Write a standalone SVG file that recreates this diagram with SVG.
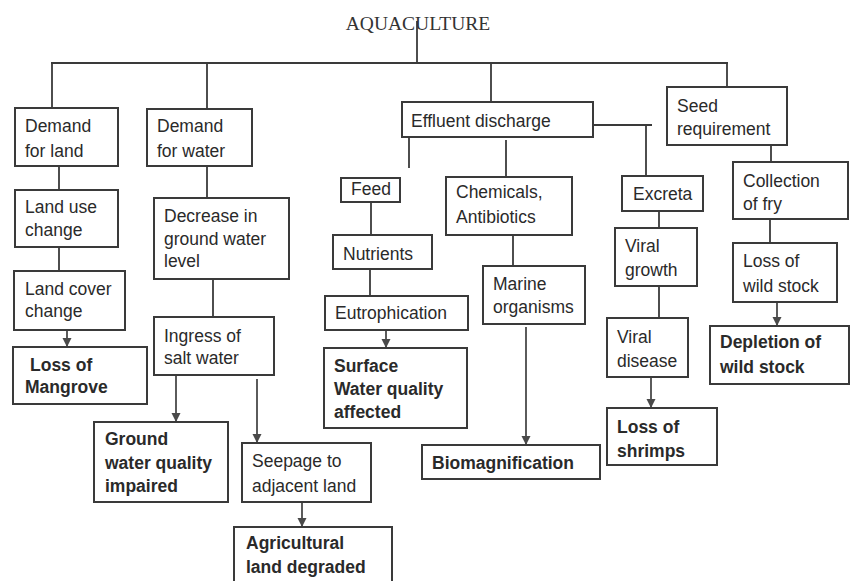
<svg xmlns="http://www.w3.org/2000/svg" width="850" height="581" viewBox="0 0 850 581">
<style>
.bg{fill:#ffffff}
.box{fill:#ffffff;stroke:#3a3a3a;stroke-width:2}
.ln{fill:none;stroke:#3a3a3a;stroke-width:1.8}
.ar{fill:none;stroke:#4a4a4a;stroke-width:1.8;marker-end:url(#ah)}
.t{font-family:"Liberation Sans",Arial,sans-serif;font-size:17.5px;fill:#2a2a2a}
.b{font-weight:bold}
.title{font-family:"Liberation Serif","Times New Roman",serif;font-size:19.5px;fill:#333333;text-anchor:middle}
</style>
<defs>
<marker id="ah" markerUnits="userSpaceOnUse" markerWidth="10" markerHeight="10" refX="9" refY="5" orient="auto">
<path d="M0,0.5 L9,5 L0,9.5 z" fill="#4a4a4a"/>
</marker>
</defs>
<rect class="bg" x="0" y="0" width="850" height="581"/>

<g id="connectors">
<line class="ln" x1="417" y1="21" x2="417" y2="63"/>
<line class="ln" x1="51" y1="63" x2="728" y2="63"/>
<line class="ln" x1="52" y1="63" x2="52" y2="108"/>
<line class="ln" x1="207" y1="63" x2="207" y2="109"/>
<line class="ln" x1="491" y1="63" x2="491" y2="102"/>
<line class="ln" x1="727" y1="63" x2="727" y2="87"/>
<line class="ln" x1="59" y1="166" x2="59" y2="190"/>
<line class="ln" x1="59" y1="247" x2="59" y2="271"/>
<line class="ar" x1="67" y1="330" x2="67" y2="347"/>
<line class="ln" x1="207" y1="166" x2="207" y2="198"/>
<line class="ln" x1="213" y1="279" x2="213" y2="317"/>
<line class="ar" x1="176" y1="375" x2="176" y2="422"/>
<line class="ar" x1="257" y1="379" x2="257" y2="443"/>
<line class="ar" x1="302" y1="502" x2="302" y2="527"/>
<line class="ln" x1="409" y1="137" x2="409" y2="168"/>
<line class="ln" x1="371" y1="202" x2="371" y2="235"/>
<line class="ln" x1="370" y1="269" x2="370" y2="296"/>
<line class="ar" x1="386" y1="330" x2="386" y2="348"/>
<line class="ln" x1="506" y1="140" x2="506" y2="177"/>
<line class="ln" x1="513" y1="235" x2="513" y2="266"/>
<line class="ar" x1="526" y1="327" x2="526" y2="445"/>
<line class="ln" x1="593" y1="125" x2="652" y2="125"/>
<line class="ln" x1="646" y1="125" x2="646" y2="175"/>
<line class="ln" x1="659" y1="211" x2="659" y2="228"/>
<line class="ln" x1="659" y1="286" x2="659" y2="318"/>
<line class="ar" x1="651" y1="377" x2="651" y2="408"/>
<line class="ln" x1="771" y1="145" x2="771" y2="162"/>
<line class="ln" x1="770" y1="219" x2="770" y2="243"/>
<line class="ar" x1="777" y1="302" x2="777" y2="326"/>
</g>

<g id="title"><text class="title" x="418" y="30">AQUACULTURE</text></g>

<g id="demand-land"><rect class="box" x="15" y="108" width="103" height="58"/><text class="t" x="25" y="132">Demand</text><text class="t" x="25" y="157">for land</text></g>
<g id="land-use"><rect class="box" x="15" y="190" width="103" height="57"/><text class="t" x="25" y="213">Land use</text><text class="t" x="25" y="236">change</text></g>
<g id="land-cover"><rect class="box" x="14" y="271" width="111" height="59"/><text class="t" x="25" y="295">Land cover</text><text class="t" x="25" y="317">change</text></g>
<g id="loss-mangrove"><rect class="box" x="13" y="347" width="134" height="57"/><text class="t b" x="30" y="371">Loss of</text><text class="t b" x="25" y="393">Mangrove</text></g>

<g id="demand-water"><rect class="box" x="147" y="109" width="105" height="57"/><text class="t" x="157" y="132">Demand</text><text class="t" x="157" y="157">for water</text></g>
<g id="decrease"><rect class="box" x="154" y="198" width="135" height="81"/><text class="t" x="164" y="222">Decrease in</text><text class="t" x="164" y="245">ground water</text><text class="t" x="164" y="267">level</text></g>
<g id="ingress"><rect class="box" x="154" y="317" width="120" height="58"/><text class="t" x="164" y="342">Ingress of</text><text class="t" x="164" y="364">salt water</text></g>
<g id="ground"><rect class="box" x="94" y="422" width="134" height="80"/><text class="t b" x="105" y="445">Ground</text><text class="t b" x="105" y="469">water quality</text><text class="t b" x="105" y="492">impaired</text></g>
<g id="seepage"><rect class="box" x="242" y="443" width="129" height="59"/><text class="t" x="252" y="467">Seepage to</text><text class="t" x="252" y="492">adjacent land</text></g>
<g id="agri"><rect class="box" x="234" y="527" width="158" height="60"/><text class="t b" x="246" y="549">Agricultural</text><text class="t b" x="246" y="573">land degraded</text></g>

<g id="effluent"><rect class="box" x="402" y="102" width="191" height="35"/><text class="t" x="411" y="127">Effluent discharge</text></g>
<g id="feed"><rect class="box" x="341" y="178" width="59" height="24"/><text class="t" x="351" y="195">Feed</text></g>
<g id="nutrients"><rect class="box" x="333" y="235" width="99" height="34"/><text class="t" x="343" y="260">Nutrients</text></g>
<g id="eutro"><rect class="box" x="325" y="296" width="143" height="34"/><text class="t" x="335" y="319">Eutrophication</text></g>
<g id="surface"><rect class="box" x="324" y="348" width="143" height="80"/><text class="t b" x="334" y="372">Surface</text><text class="t b" x="334" y="395">Water quality</text><text class="t b" x="334" y="418">affected</text></g>
<g id="chemicals"><rect class="box" x="446" y="177" width="126" height="58"/><text class="t" x="456" y="198">Chemicals,</text><text class="t" x="456" y="223">Antibiotics</text></g>
<g id="marine"><rect class="box" x="483" y="266" width="102" height="58"/><text class="t" x="493" y="290">Marine</text><text class="t" x="493" y="313">organisms</text></g>
<g id="biomag"><rect class="box" x="422" y="445" width="178" height="34"/><text class="t b" x="432" y="469">Biomagnification</text></g>

<g id="excreta"><rect class="box" x="622" y="176" width="81" height="35"/><text class="t" x="633" y="200">Excreta</text></g>
<g id="viral-growth"><rect class="box" x="615" y="228" width="82" height="58"/><text class="t" x="625" y="252">Viral</text><text class="t" x="625" y="276">growth</text></g>
<g id="viral-disease"><rect class="box" x="607" y="318" width="81" height="59"/><text class="t" x="617" y="343">Viral</text><text class="t" x="617" y="367">disease</text></g>
<g id="loss-shrimps"><rect class="box" x="607" y="408" width="110" height="57"/><text class="t b" x="617" y="433">Loss of</text><text class="t b" x="617" y="457">shrimps</text></g>

<g id="seed"><rect class="box" x="667" y="87" width="120" height="58"/><text class="t" x="677" y="112">Seed</text><text class="t" x="677" y="135">requirement</text></g>
<g id="collection"><rect class="box" x="733" y="162" width="115" height="57"/><text class="t" x="743" y="187">Collection</text><text class="t" x="743" y="210">of fry</text></g>
<g id="loss-wild"><rect class="box" x="733" y="243" width="104" height="59"/><text class="t" x="743" y="267">Loss of</text><text class="t" x="743" y="292">wild stock</text></g>
<g id="depletion"><rect class="box" x="710" y="326" width="139" height="58"/><text class="t b" x="720" y="348">Depletion of</text><text class="t b" x="720" y="373">wild stock</text></g>
</svg>
